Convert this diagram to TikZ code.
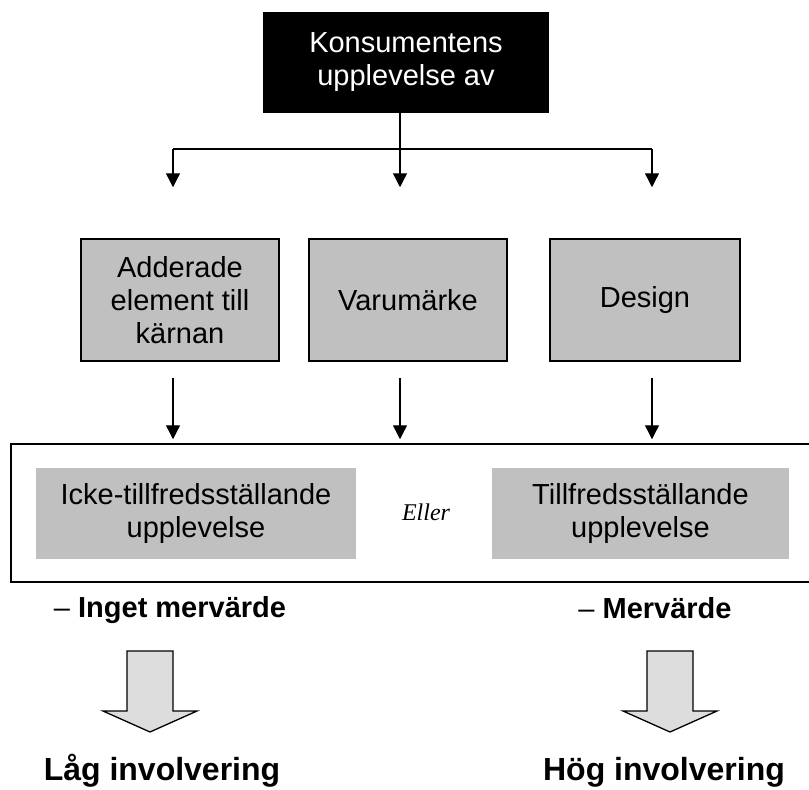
\documentclass[tikz,border=0pt]{standalone}
\usepackage{fontspec}
\setmainfont{Liberation Sans}
\newfontfamily\serifit{Liberation Serif}
\usetikzlibrary{arrows.meta,positioning,calc}
\definecolor{boxgray}{RGB}{192,192,192}
\definecolor{arrowgray}{RGB}{221,221,221}
\begin{document}
\begin{tikzpicture}[x=1pt,y=-1pt,>={Triangle[width=14pt,length=14pt]},
	txt/.style={font=\fontsize{29}{33}\selectfont,align=center,inner sep=0pt},
	graybox/.style={txt,draw,line width=1.5pt,fill=boxgray,minimum width=198pt,minimum height=122pt},
	outcome/.style={txt,fill=boxgray,minimum height=91pt},
	conn/.style={line width=1.3pt},
	blockarrow/.style={draw,line width=1.3pt,fill=arrowgray,line join=miter},
	verdict/.style={font=\bfseries\fontsize{29}{33}\selectfont,anchor=base},
	involve/.style={font=\bfseries\fontsize{32}{36}\selectfont,anchor=base}]
		\clip (0,0) rectangle (809,790);
		\node[txt,fill=black,text=white,minimum width=286pt,minimum height=101pt] (cons) at (406,62.5) {Konsumentens\\upplevelse av};
		\node[graybox] (add) at (180,300) {Adderade\\element till\\kärnan};
		\node[graybox] (brand) at (408,300) {Varumärke};
		\node[graybox,minimum width=190pt] (design) at (645,300) {Design};
		\node[draw,line width=1.5pt,minimum width=800pt,minimum height=138pt] (frame) at (411,513) {};
		\node[outcome,minimum width=320pt] (neg) at (196,513) {Icke-tillfredsställande\\upplevelse};
		\node[outcome,minimum width=297pt] (pos) at (640.5,513) {Tillfredsställande\\upplevelse};
		\node[font=\serifit\itshape\fontsize{24}{28}\selectfont] (eller) at (426,512) {Eller};
		% bus from the top box
		\coordinate (bus) at (400,149);
		\coordinate (busl) at (173,149);
		\coordinate (busr) at (652,149);
		\draw[conn] (cons.south -| bus) -- (bus);
		\draw[conn] (busl) -- (busr);
		\draw[conn,->,shorten >=51pt] (busl) -- (busl |- add.north);
		\draw[conn,->,shorten >=51pt] (bus) -- (bus |- brand.north);
		\draw[conn,->,shorten >=51pt] (busr) -- (busr |- design.north);
		% down into the frame
		\draw[conn,->,shorten <=16pt,shorten >=4pt] (busl |- add.south) -- (busl |- frame.north);
		\draw[conn,->,shorten <=16pt,shorten >=4pt] (bus |- brand.south) -- (bus |- frame.north);
		\draw[conn,->,shorten <=16pt,shorten >=4pt] (busr |- design.south) -- (busr |- frame.north);
		\node[verdict] (noval) at (170,617) {{\mdseries –} Inget mervärde};
		\node[verdict] (val) at (655,618) {{\mdseries –} Mervärde};
		% block arrows
		\coordinate (lowtip) at (150,732);
		\coordinate (hightip) at (670,732);
		\draw[blockarrow] (lowtip) -- ++(-47,-21) -- ++(24,0) -- ++(0,-60) -- ++(46,0) -- ++(0,60) -- ++(24,0) -- cycle;
		\draw[blockarrow] (hightip) -- ++(-47,-21) -- ++(24,0) -- ++(0,-60) -- ++(46,0) -- ++(0,60) -- ++(24,0) -- cycle;
		\node[involve] (low) at (162,780) {Låg involvering};
		\node[involve] (high) at (664,780) {Hög involvering};
\end{tikzpicture}
\end{document}
